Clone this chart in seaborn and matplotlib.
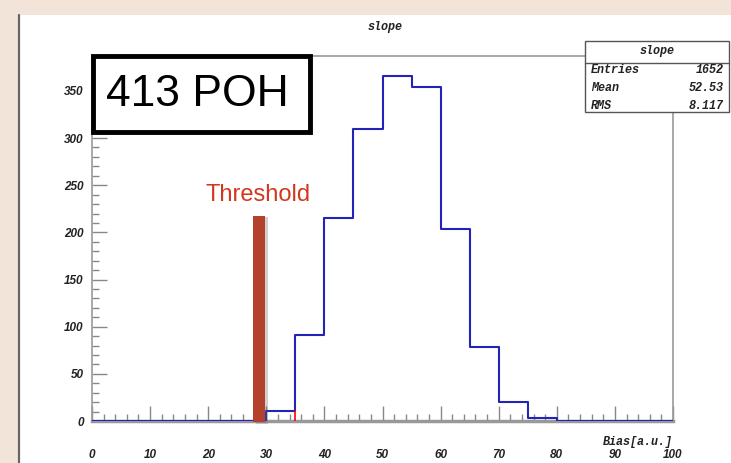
import numpy as np
import pandas as pd
import matplotlib
matplotlib.use("Agg")
import matplotlib.pyplot as plt
import seaborn as sns
from matplotlib.patches import Rectangle
from matplotlib.lines import Line2D

# ---------------- data ----------------
bin_edges = list(range(0, 105, 5))
bin_centers = [2.5, 7.5, 12.5, 17.5, 22.5, 27.5, 32.5, 37.5, 42.5, 47.5,
               52.5, 57.5, 62.5, 67.5, 72.5, 77.5, 82.5, 87.5, 92.5, 97.5]
counts = [0, 0, 0, 0, 0, 0, 11, 91, 215, 310,
          366, 354, 204, 78, 20, 3, 0, 0, 0, 0]
threshold_x = 28.75
threshold_h = 219
x_ticks = [0, 10, 20, 30, 40, 50, 60, 70, 80, 90, 100]
y_ticks = [0, 50, 100, 150, 200, 250, 300, 350]
stats_labels = ["Entries", "Mean", "RMS"]
stats_values = ["1652", "52.53", "8.117"]
title = "slope"
xlabel = "Bias[a.u.]"
box_text = "413 POH"
thr_text = "Threshold"

df = pd.DataFrame({"x": bin_centers, "w": counts})

W, H = 731, 463
sns.set_theme(style="white")
plt.rcParams["font.family"] = ["Liberation Sans", "DejaVu Sans"]

fig = plt.figure(figsize=(W / 100, H / 100), dpi=100)
fig.patch.set_facecolor("#f3e4da")

def fx(px):
    return px / W

def fy(py):
    return 1 - py / H

# white panel
fig.patches.append(Rectangle((fx(19), 0), 1 - fx(19), fy(15), transform=fig.transFigure,
                             facecolor="white", edgecolor="none", zorder=0))
fig.lines.append(Line2D([fx(19), fx(19)], [0, fy(15)], transform=fig.transFigure,
                        color="#666666", lw=1.6, zorder=1))

ax = fig.add_axes([fx(92), fy(421), fx(673) - fx(92), fy(56) - fy(421)])
ax.set_zorder(2)
ax.set_facecolor("white")

sns.histplot(data=df, x="x", weights="w", bins=bin_edges, element="step",
             fill=False, color="#2323b8", linewidth=1.5, ax=ax, zorder=3)

# threshold bar with shadow
ax.bar([threshold_x + 0.45], [threshold_h], width=2.1, bottom=-3, color="#666666",
       alpha=0.3, zorder=4, clip_on=False, linewidth=0, edgecolor="none")
ax.bar([threshold_x], [threshold_h], width=2.1, color="#b3412c", zorder=5,
       bottom=-1.5, clip_on=False, linewidth=0, edgecolor="none")
ax.plot([35, 35], [0, 11], color="red", lw=1.2, zorder=4)

ax.set_xlim(0, 100)
ax.set_ylim(0, 387)
ax.set_xlabel("")
ax.set_ylabel("")
ax.set_xticks(x_ticks)
ax.set_yticks(y_ticks)
ax.set_xticks(np.arange(0, 101, 2), minor=True)
ax.set_yticks(np.arange(0, 381, 10), minor=True)
ax.tick_params(axis="both", which="major", direction="in", color="#888888",
               length=11, width=1.0, labelsize=8.5)
ax.tick_params(axis="both", which="minor", direction="in", color="#888888",
               length=5, width=1.0)
ax.tick_params(bottom=True, left=True, which="both")
ax.tick_params(axis="y", which="major", pad=6)
ax.tick_params(axis="x", which="major", pad=20)
for lab in ax.get_xticklabels() + ax.get_yticklabels():
    lab.set_fontweight("bold")
    lab.set_fontstyle("italic")
    lab.set_color("#222222")
for s in ax.spines.values():
    s.set_color("#999999")
    s.set_linewidth(1.2)
ax.spines["bottom"].set_linewidth(2.5)

mono = dict(family="Liberation Mono", fontweight="bold", fontstyle="italic", color="#222222")

# x label
fig.text(fx(673), fy(442), xlabel, ha="right", va="center", fontsize=8.5, zorder=7, **mono)

# title
fig.text(fx(385), fy(27), title, ha="center", va="center", fontsize=8.5, **mono)

# stats box
bx0, bx1, by0, by1, bdiv = 585, 729, 41, 112, 63
fig.patches.append(Rectangle((fx(bx0), fy(by1)), fx(bx1) - fx(bx0), fy(by0) - fy(by1),
                             transform=fig.transFigure, facecolor="white",
                             edgecolor="#555555", lw=1.0, zorder=5))
fig.lines.append(Line2D([fx(bx0), fx(bx1)], [fy(bdiv), fy(bdiv)], transform=fig.transFigure,
                        color="#555555", lw=1.0, zorder=6))
fig.text(fx((bx0 + bx1) / 2), fy(51), title, ha="center", va="center", fontsize=8.5,
         zorder=7, **mono)
for i, (lab, val) in enumerate(zip(stats_labels, stats_values)):
    yy = 70 + i * 18
    fig.text(fx(591), fy(yy), lab, ha="left", va="center", fontsize=8.5, zorder=7, **mono)
    fig.text(fx(724), fy(yy), val, ha="right", va="center", fontsize=8.5, zorder=7, **mono)

# 413 POH box
fig.patches.append(Rectangle((fx(93), fy(132)), fx(310) - fx(93), fy(56) - fy(132),
                             transform=fig.transFigure, facecolor="white",
                             edgecolor="black", lw=3.5, zorder=8))
fig.text(fx(197), fy(95), box_text, ha="center", va="center", fontsize=32,
         color="black", zorder=9)

# threshold label
fig.text(fx(258), fy(195), thr_text, ha="center", va="center", fontsize=17,
         color="#d2381f", zorder=9)

fig.savefig("out.png", dpi=100, facecolor=fig.get_facecolor())
